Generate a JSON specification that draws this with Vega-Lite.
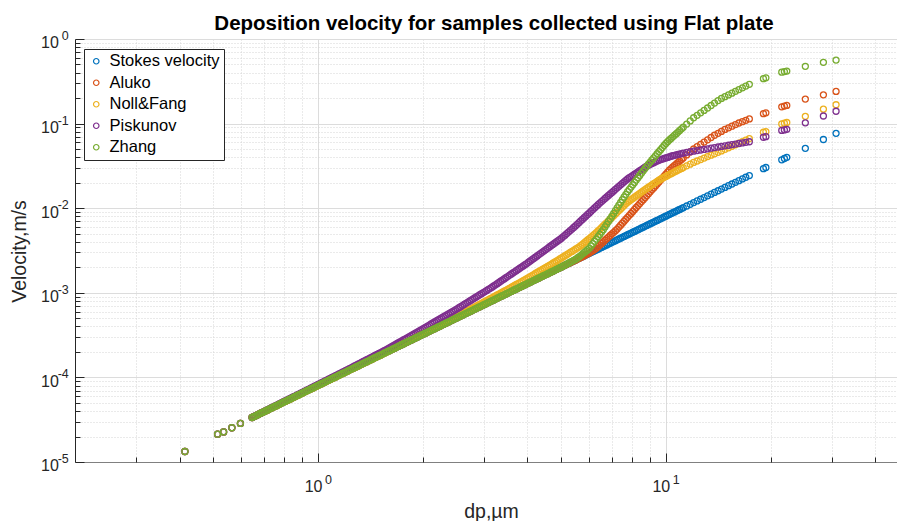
{
"$schema":"https://vega.github.io/schema/vega-lite/v6.json",
"width":822,"height":423,
"autosize":{"type":"none"},
"padding":{"left":75,"top":39,"right":0,"bottom":59},
"background":"white",
"config":{"view":{"stroke":null},"font":"Liberation Sans"},
"title":{"text":"Deposition velocity for samples collected using Flat plate","font":"Liberation Sans","fontSize":20.5,"fontWeight":"bold","color":"#000000","anchor":"middle","frame":"group","offset":-5,"dx":8},
"data":{"values":[
{"d":0.414,"s":1.33e-5,"a":1.33e-5,"n":1.33e-5,"p":1.33e-5,"z":1.33e-5},
{"d":0.514,"s":2.13e-5,"a":2.13e-5,"n":2.13e-5,"p":2.13e-5,"z":2.13e-5},
{"d":0.535,"s":2.27e-5,"a":2.27e-5,"n":2.27e-5,"p":2.27e-5,"z":2.27e-5},
{"d":0.565,"s":2.54e-5,"a":2.54e-5,"n":2.54e-5,"p":2.54e-5,"z":2.54e-5},
{"d":0.598,"s":2.86e-5,"a":2.86e-5,"n":2.86e-5,"p":2.86e-5,"z":2.86e-5},
{"d":0.646,"s":3.357e-5,"a":3.357e-5,"n":3.357e-5,"p":3.357e-5,"z":3.357e-5},
{"d":0.6531,"s":3.436e-5,"a":3.436e-5,"n":3.436e-5,"p":3.439e-5,"z":3.436e-5},
{"d":0.661,"s":3.516e-5,"a":3.516e-5,"n":3.516e-5,"p":3.520e-5,"z":3.516e-5},
{"d":0.6683,"s":3.598e-5,"a":3.598e-5,"n":3.598e-5,"p":3.605e-5,"z":3.598e-5},
{"d":0.676,"s":3.681e-5,"a":3.681e-5,"n":3.681e-5,"p":3.690e-5,"z":3.681e-5},
{"d":0.6839,"s":3.767e-5,"a":3.767e-5,"n":3.767e-5,"p":3.780e-5,"z":3.767e-5},
{"d":0.692,"s":3.855e-5,"a":3.855e-5,"n":3.855e-5,"p":3.869e-5,"z":3.855e-5},
{"d":0.6998,"s":3.945e-5,"a":3.945e-5,"n":3.945e-5,"p":3.963e-5,"z":3.945e-5},
{"d":0.708,"s":4.037e-5,"a":4.037e-5,"n":4.037e-5,"p":4.057e-5,"z":4.037e-5},
{"d":0.7161,"s":4.131e-5,"a":4.131e-5,"n":4.131e-5,"p":4.155e-5,"z":4.131e-5},
{"d":0.724,"s":4.227e-5,"a":4.227e-5,"n":4.227e-5,"p":4.253e-5,"z":4.227e-5},
{"d":0.7328,"s":4.325e-5,"a":4.325e-5,"n":4.325e-5,"p":4.356e-5,"z":4.325e-5},
{"d":0.741,"s":4.426e-5,"a":4.426e-5,"n":4.426e-5,"p":4.458e-5,"z":4.426e-5},
{"d":0.7499,"s":4.529e-5,"a":4.529e-5,"n":4.529e-5,"p":4.566e-5,"z":4.529e-5},
{"d":0.759,"s":4.635e-5,"a":4.635e-5,"n":4.635e-5,"p":4.674e-5,"z":4.635e-5},
{"d":0.7674,"s":4.742e-5,"a":4.742e-5,"n":4.742e-5,"p":4.787e-5,"z":4.742e-5},
{"d":0.776,"s":4.853e-5,"a":4.853e-5,"n":4.853e-5,"p":4.900e-5,"z":4.853e-5},
{"d":0.7852,"s":4.966e-5,"a":4.966e-5,"n":4.966e-5,"p":5.019e-5,"z":4.966e-5},
{"d":0.794,"s":5.082e-5,"a":5.082e-5,"n":5.082e-5,"p":5.138e-5,"z":5.082e-5},
{"d":0.8035,"s":5.200e-5,"a":5.200e-5,"n":5.200e-5,"p":5.262e-5,"z":5.200e-5},
{"d":0.813,"s":5.321e-5,"a":5.321e-5,"n":5.321e-5,"p":5.386e-5,"z":5.321e-5},
{"d":0.8222,"s":5.445e-5,"a":5.445e-5,"n":5.445e-5,"p":5.517e-5,"z":5.445e-5},
{"d":0.832,"s":5.572e-5,"a":5.572e-5,"n":5.572e-5,"p":5.647e-5,"z":5.572e-5},
{"d":0.8414,"s":5.702e-5,"a":5.702e-5,"n":5.702e-5,"p":5.784e-5,"z":5.702e-5},
{"d":0.851,"s":5.835e-5,"a":5.835e-5,"n":5.835e-5,"p":5.921e-5,"z":5.835e-5},
{"d":0.8610,"s":5.970e-5,"a":5.970e-5,"n":5.970e-5,"p":6.064e-5,"z":5.970e-5},
{"d":0.871,"s":6.109e-5,"a":6.109e-5,"n":6.109e-5,"p":6.206e-5,"z":6.109e-5},
{"d":0.8811,"s":6.252e-5,"a":6.252e-5,"n":6.252e-5,"p":6.356e-5,"z":6.252e-5},
{"d":0.891,"s":6.397e-5,"a":6.397e-5,"n":6.397e-5,"p":6.506e-5,"z":6.397e-5},
{"d":0.9016,"s":6.546e-5,"a":6.546e-5,"n":6.546e-5,"p":6.664e-5,"z":6.546e-5},
{"d":0.912,"s":6.699e-5,"a":6.699e-5,"n":6.699e-5,"p":6.822e-5,"z":6.699e-5},
{"d":0.9226,"s":6.855e-5,"a":6.855e-5,"n":6.855e-5,"p":6.987e-5,"z":6.855e-5},
{"d":0.933,"s":7.015e-5,"a":7.015e-5,"n":7.015e-5,"p":7.152e-5,"z":7.015e-5},
{"d":0.9441,"s":7.178e-5,"a":7.178e-5,"n":7.178e-5,"p":7.325e-5,"z":7.178e-5},
{"d":0.955,"s":7.345e-5,"a":7.345e-5,"n":7.345e-5,"p":7.498e-5,"z":7.345e-5},
{"d":0.9660,"s":7.516e-5,"a":7.516e-5,"n":7.516e-5,"p":7.679e-5,"z":7.516e-5},
{"d":0.977,"s":7.691e-5,"a":7.691e-5,"n":7.691e-5,"p":7.860e-5,"z":7.691e-5},
{"d":0.9886,"s":7.871e-5,"a":7.871e-5,"n":7.871e-5,"p":8.051e-5,"z":7.871e-5},
{"d":1.000,"s":8.054e-5,"a":8.054e-5,"n":8.054e-5,"p":8.242e-5,"z":8.054e-5},
{"d":1.0116,"s":8.241e-5,"a":8.241e-5,"n":8.241e-5,"p":8.444e-5,"z":8.241e-5},
{"d":1.023,"s":8.433e-5,"a":8.433e-5,"n":8.433e-5,"p":8.645e-5,"z":8.433e-5},
{"d":1.0351,"s":8.630e-5,"a":8.630e-5,"n":8.630e-5,"p":8.858e-5,"z":8.630e-5},
{"d":1.047,"s":8.831e-5,"a":8.831e-5,"n":8.831e-5,"p":9.070e-5,"z":8.831e-5},
{"d":1.0593,"s":9.037e-5,"a":9.037e-5,"n":9.037e-5,"p":9.293e-5,"z":9.037e-5},
{"d":1.072,"s":9.247e-5,"a":9.247e-5,"n":9.247e-5,"p":9.515e-5,"z":9.247e-5},
{"d":1.0839,"s":9.462e-5,"a":9.462e-5,"n":9.462e-5,"p":9.749e-5,"z":9.462e-5},
{"d":1.096,"s":9.683e-5,"a":9.683e-5,"n":9.683e-5,"p":9.982e-5,"z":9.683e-5},
{"d":1.1092,"s":9.908e-5,"a":9.908e-5,"n":9.908e-5,"p":1.023e-4,"z":9.908e-5},
{"d":1.122,"s":1.014e-4,"a":1.014e-4,"n":1.014e-4,"p":1.047e-4,"z":1.014e-4},
{"d":1.1350,"s":1.038e-4,"a":1.038e-4,"n":1.038e-4,"p":1.073e-4,"z":1.038e-4},
{"d":1.148,"s":1.062e-4,"a":1.062e-4,"n":1.062e-4,"p":1.099e-4,"z":1.062e-4},
{"d":1.1615,"s":1.086e-4,"a":1.086e-4,"n":1.086e-4,"p":1.126e-4,"z":1.086e-4},
{"d":1.175,"s":1.112e-4,"a":1.112e-4,"n":1.112e-4,"p":1.153e-4,"z":1.112e-4},
{"d":1.1885,"s":1.138e-4,"a":1.138e-4,"n":1.138e-4,"p":1.181e-4,"z":1.138e-4},
{"d":1.202,"s":1.164e-4,"a":1.164e-4,"n":1.164e-4,"p":1.209e-4,"z":1.164e-4},
{"d":1.2162,"s":1.191e-4,"a":1.191e-4,"n":1.191e-4,"p":1.239e-4,"z":1.191e-4},
{"d":1.230,"s":1.219e-4,"a":1.219e-4,"n":1.219e-4,"p":1.268e-4,"z":1.219e-4},
{"d":1.2445,"s":1.247e-4,"a":1.247e-4,"n":1.247e-4,"p":1.299e-4,"z":1.247e-4},
{"d":1.259,"s":1.276e-4,"a":1.276e-4,"n":1.276e-4,"p":1.330e-4,"z":1.276e-4},
{"d":1.2735,"s":1.306e-4,"a":1.306e-4,"n":1.306e-4,"p":1.364e-4,"z":1.306e-4},
{"d":1.288,"s":1.337e-4,"a":1.337e-4,"n":1.337e-4,"p":1.397e-4,"z":1.337e-4},
{"d":1.3031,"s":1.368e-4,"a":1.368e-4,"n":1.368e-4,"p":1.432e-4,"z":1.368e-4},
{"d":1.318,"s":1.400e-4,"a":1.400e-4,"n":1.400e-4,"p":1.467e-4,"z":1.400e-4},
{"d":1.3335,"s":1.432e-4,"a":1.432e-4,"n":1.432e-4,"p":1.504e-4,"z":1.432e-4},
{"d":1.349,"s":1.466e-4,"a":1.466e-4,"n":1.466e-4,"p":1.541e-4,"z":1.466e-4},
{"d":1.3646,"s":1.500e-4,"a":1.500e-4,"n":1.500e-4,"p":1.580e-4,"z":1.500e-4},
{"d":1.380,"s":1.535e-4,"a":1.535e-4,"n":1.535e-4,"p":1.618e-4,"z":1.535e-4},
{"d":1.3964,"s":1.570e-4,"a":1.570e-4,"n":1.570e-4,"p":1.658e-4,"z":1.570e-4},
{"d":1.413,"s":1.607e-4,"a":1.607e-4,"n":1.607e-4,"p":1.698e-4,"z":1.607e-4},
{"d":1.4289,"s":1.644e-4,"a":1.644e-4,"n":1.644e-4,"p":1.741e-4,"z":1.644e-4},
{"d":1.445,"s":1.683e-4,"a":1.683e-4,"n":1.683e-4,"p":1.784e-4,"z":1.683e-4},
{"d":1.4621,"s":1.722e-4,"a":1.722e-4,"n":1.722e-4,"p":1.828e-4,"z":1.722e-4},
{"d":1.479,"s":1.762e-4,"a":1.762e-4,"n":1.762e-4,"p":1.872e-4,"z":1.762e-4},
{"d":1.4962,"s":1.803e-4,"a":1.803e-4,"n":1.803e-4,"p":1.919e-4,"z":1.803e-4},
{"d":1.514,"s":1.845e-4,"a":1.845e-4,"n":1.845e-4,"p":1.966e-4,"z":1.845e-4},
{"d":1.5311,"s":1.888e-4,"a":1.888e-4,"n":1.888e-4,"p":2.016e-4,"z":1.888e-4},
{"d":1.549,"s":1.932e-4,"a":1.932e-4,"n":1.932e-4,"p":2.065e-4,"z":1.932e-4},
{"d":1.5667,"s":1.977e-4,"a":1.977e-4,"n":1.977e-4,"p":2.117e-4,"z":1.977e-4},
{"d":1.585,"s":2.023e-4,"a":2.023e-4,"n":2.023e-4,"p":2.168e-4,"z":2.023e-4},
{"d":1.6032,"s":2.070e-4,"a":2.070e-4,"n":2.084e-4,"p":2.228e-4,"z":2.070e-4},
{"d":1.622,"s":2.118e-4,"a":2.118e-4,"n":2.145e-4,"p":2.288e-4,"z":2.118e-4},
{"d":1.6406,"s":2.168e-4,"a":2.168e-4,"n":2.197e-4,"p":2.352e-4,"z":2.168e-4},
{"d":1.660,"s":2.218e-4,"a":2.218e-4,"n":2.249e-4,"p":2.415e-4,"z":2.218e-4},
{"d":1.6788,"s":2.270e-4,"a":2.270e-4,"n":2.304e-4,"p":2.483e-4,"z":2.270e-4},
{"d":1.698,"s":2.323e-4,"a":2.323e-4,"n":2.358e-4,"p":2.550e-4,"z":2.323e-4},
{"d":1.7179,"s":2.377e-4,"a":2.377e-4,"n":2.415e-4,"p":2.621e-4,"z":2.377e-4},
{"d":1.738,"s":2.432e-4,"a":2.432e-4,"n":2.472e-4,"p":2.691e-4,"z":2.432e-4},
{"d":1.7579,"s":2.489e-4,"a":2.489e-4,"n":2.532e-4,"p":2.766e-4,"z":2.489e-4},
{"d":1.778,"s":2.547e-4,"a":2.547e-4,"n":2.591e-4,"p":2.841e-4,"z":2.547e-4},
{"d":1.7989,"s":2.606e-4,"a":2.606e-4,"n":2.654e-4,"p":2.920e-4,"z":2.606e-4},
{"d":1.820,"s":2.667e-4,"a":2.667e-4,"n":2.717e-4,"p":2.999e-4,"z":2.667e-4},
{"d":1.8408,"s":2.729e-4,"a":2.729e-4,"n":2.783e-4,"p":3.083e-4,"z":2.729e-4},
{"d":1.862,"s":2.793e-4,"a":2.793e-4,"n":2.848e-4,"p":3.166e-4,"z":2.793e-4},
{"d":1.8837,"s":2.858e-4,"a":2.858e-4,"n":2.917e-4,"p":3.254e-4,"z":2.858e-4},
{"d":1.905,"s":2.924e-4,"a":2.924e-4,"n":2.985e-4,"p":3.342e-4,"z":2.924e-4},
{"d":1.9276,"s":2.992e-4,"a":2.992e-4,"n":3.058e-4,"p":3.435e-4,"z":2.992e-4},
{"d":1.950,"s":3.062e-4,"a":3.062e-4,"n":3.130e-4,"p":3.528e-4,"z":3.062e-4},
{"d":1.9724,"s":3.133e-4,"a":3.133e-4,"n":3.206e-4,"p":3.626e-4,"z":3.133e-4},
{"d":1.995,"s":3.206e-4,"a":3.206e-4,"n":3.281e-4,"p":3.723e-4,"z":3.206e-4},
{"d":2.0184,"s":3.281e-4,"a":3.281e-4,"n":3.362e-4,"p":3.829e-4,"z":3.281e-4},
{"d":2.042,"s":3.357e-4,"a":3.357e-4,"n":3.443e-4,"p":3.935e-4,"z":3.357e-4},
{"d":2.0654,"s":3.436e-4,"a":3.436e-4,"n":3.529e-4,"p":4.047e-4,"z":3.436e-4},
{"d":2.089,"s":3.516e-4,"a":3.516e-4,"n":3.615e-4,"p":4.159e-4,"z":3.516e-4},
{"d":2.1135,"s":3.598e-4,"a":3.598e-4,"n":3.704e-4,"p":4.277e-4,"z":3.598e-4},
{"d":2.138,"s":3.681e-4,"a":3.681e-4,"n":3.793e-4,"p":4.395e-4,"z":3.681e-4},
{"d":2.1628,"s":3.767e-4,"a":3.767e-4,"n":3.887e-4,"p":4.520e-4,"z":3.767e-4},
{"d":2.188,"s":3.855e-4,"a":3.855e-4,"n":3.981e-4,"p":4.645e-4,"z":3.855e-4},
{"d":2.2131,"s":3.945e-4,"a":3.945e-4,"n":4.080e-4,"p":4.778e-4,"z":3.945e-4},
{"d":2.239,"s":4.037e-4,"a":4.037e-4,"n":4.179e-4,"p":4.910e-4,"z":4.037e-4},
{"d":2.2646,"s":4.131e-4,"a":4.131e-4,"n":4.283e-4,"p":5.049e-4,"z":4.131e-4},
{"d":2.291,"s":4.227e-4,"a":4.227e-4,"n":4.386e-4,"p":5.188e-4,"z":4.227e-4},
{"d":2.3174,"s":4.325e-4,"a":4.325e-4,"n":4.495e-4,"p":5.336e-4,"z":4.325e-4},
{"d":2.344,"s":4.426e-4,"a":4.426e-4,"n":4.603e-4,"p":5.483e-4,"z":4.426e-4},
{"d":2.3714,"s":4.529e-4,"a":4.529e-4,"n":4.717e-4,"p":5.639e-4,"z":4.529e-4},
{"d":2.399,"s":4.635e-4,"a":4.635e-4,"n":4.831e-4,"p":5.795e-4,"z":4.635e-4},
{"d":2.4266,"s":4.742e-4,"a":4.742e-4,"n":4.951e-4,"p":5.960e-4,"z":4.742e-4},
{"d":2.455,"s":4.853e-4,"a":4.853e-4,"n":5.070e-4,"p":6.124e-4,"z":4.853e-4},
{"d":2.4831,"s":4.966e-4,"a":4.966e-4,"n":5.196e-4,"p":6.298e-4,"z":4.966e-4},
{"d":2.512,"s":5.082e-4,"a":5.082e-4,"n":5.321e-4,"p":6.472e-4,"z":5.082e-4},
{"d":2.5410,"s":5.200e-4,"a":5.200e-4,"n":5.453e-4,"p":6.668e-4,"z":5.200e-4},
{"d":2.570,"s":5.321e-4,"a":5.321e-4,"n":5.584e-4,"p":6.863e-4,"z":5.321e-4},
{"d":2.6002,"s":5.445e-4,"a":5.445e-4,"n":5.723e-4,"p":7.071e-4,"z":5.445e-4},
{"d":2.630,"s":5.572e-4,"a":5.572e-4,"n":5.862e-4,"p":7.278e-4,"z":5.572e-4},
{"d":2.6607,"s":5.702e-4,"a":5.702e-4,"n":6.007e-4,"p":7.499e-4,"z":5.702e-4},
{"d":2.692,"s":5.835e-4,"a":5.835e-4,"n":6.152e-4,"p":7.719e-4,"z":5.835e-4},
{"d":2.7227,"s":5.970e-4,"a":5.970e-4,"n":6.304e-4,"p":7.952e-4,"z":5.970e-4},
{"d":2.754,"s":6.109e-4,"a":6.109e-4,"n":6.456e-4,"p":8.184e-4,"z":6.109e-4},
{"d":2.7861,"s":6.252e-4,"a":6.252e-4,"n":6.616e-4,"p":8.432e-4,"z":6.252e-4},
{"d":2.818,"s":6.397e-4,"a":6.397e-4,"n":6.776e-4,"p":8.679e-4,"z":6.397e-4},
{"d":2.8510,"s":6.546e-4,"a":6.546e-4,"n":6.952e-4,"p":8.942e-4,"z":6.546e-4},
{"d":2.884,"s":6.699e-4,"a":6.699e-4,"n":7.128e-4,"p":9.204e-4,"z":6.699e-4},
{"d":2.9174,"s":6.855e-4,"a":6.855e-4,"n":7.314e-4,"p":9.483e-4,"z":6.855e-4},
{"d":2.951,"s":7.015e-4,"a":7.015e-4,"n":7.500e-4,"p":9.761e-4,"z":7.015e-4},
{"d":2.9854,"s":7.178e-4,"a":7.178e-4,"n":7.695e-4,"p":1.006e-3,"z":7.178e-4},
{"d":3.020,"s":7.345e-4,"a":7.345e-4,"n":7.889e-4,"p":1.035e-3,"z":7.345e-4},
{"d":3.0550,"s":7.516e-4,"a":7.516e-4,"n":8.094e-4,"p":1.067e-3,"z":7.516e-4},
{"d":3.090,"s":7.691e-4,"a":7.691e-4,"n":8.298e-4,"p":1.098e-3,"z":7.691e-4},
{"d":3.1261,"s":7.871e-4,"a":7.871e-4,"n":8.514e-4,"p":1.131e-3,"z":7.871e-4},
{"d":3.162,"s":8.054e-4,"a":8.054e-4,"n":8.730e-4,"p":1.164e-3,"z":8.054e-4},
{"d":3.1989,"s":8.241e-4,"a":8.241e-4,"n":8.957e-4,"p":1.203e-3,"z":8.241e-4},
{"d":3.236,"s":8.433e-4,"a":8.433e-4,"n":9.183e-4,"p":1.242e-3,"z":8.433e-4},
{"d":3.2734,"s":8.630e-4,"a":8.630e-4,"n":9.422e-4,"p":1.283e-3,"z":8.630e-4},
{"d":3.311,"s":8.831e-4,"a":8.831e-4,"n":9.661e-4,"p":1.324e-3,"z":8.831e-4},
{"d":3.3497,"s":9.037e-4,"a":9.037e-4,"n":9.911e-4,"p":1.369e-3,"z":9.037e-4},
{"d":3.388,"s":9.247e-4,"a":9.247e-4,"n":1.016e-3,"p":1.413e-3,"z":9.247e-4},
{"d":3.4276,"s":9.462e-4,"a":9.462e-4,"n":1.043e-3,"p":1.460e-3,"z":9.462e-4},
{"d":3.467,"s":9.683e-4,"a":9.683e-4,"n":1.069e-3,"p":1.507e-3,"z":9.683e-4},
{"d":3.5075,"s":9.908e-4,"a":9.908e-4,"n":1.097e-3,"p":1.557e-3,"z":9.908e-4},
{"d":3.548,"s":1.014e-3,"a":1.014e-3,"n":1.125e-3,"p":1.607e-3,"z":1.014e-3},
{"d":3.5892,"s":1.038e-3,"a":1.038e-3,"n":1.156e-3,"p":1.661e-3,"z":1.038e-3},
{"d":3.631,"s":1.062e-3,"a":1.062e-3,"n":1.187e-3,"p":1.714e-3,"z":1.062e-3},
{"d":3.6728,"s":1.086e-3,"a":1.086e-3,"n":1.220e-3,"p":1.771e-3,"z":1.086e-3},
{"d":3.715,"s":1.112e-3,"a":1.112e-3,"n":1.253e-3,"p":1.828e-3,"z":1.112e-3},
{"d":3.7584,"s":1.138e-3,"a":1.138e-3,"n":1.287e-3,"p":1.889e-3,"z":1.138e-3},
{"d":3.802,"s":1.164e-3,"a":1.164e-3,"n":1.321e-3,"p":1.950e-3,"z":1.164e-3},
{"d":3.8459,"s":1.191e-3,"a":1.191e-3,"n":1.358e-3,"p":2.015e-3,"z":1.191e-3},
{"d":3.890,"s":1.219e-3,"a":1.219e-3,"n":1.394e-3,"p":2.080e-3,"z":1.219e-3},
{"d":3.9355,"s":1.247e-3,"a":1.247e-3,"n":1.433e-3,"p":2.149e-3,"z":1.247e-3},
{"d":3.981,"s":1.276e-3,"a":1.276e-3,"n":1.471e-3,"p":2.218e-3,"z":1.276e-3},
{"d":4.0272,"s":1.306e-3,"a":1.306e-3,"n":1.512e-3,"p":2.298e-3,"z":1.306e-3},
{"d":4.074,"s":1.337e-3,"a":1.337e-3,"n":1.553e-3,"p":2.377e-3,"z":1.337e-3},
{"d":4.1210,"s":1.368e-3,"a":1.368e-3,"n":1.598e-3,"p":2.462e-3,"z":1.368e-3},
{"d":4.169,"s":1.400e-3,"a":1.400e-3,"n":1.642e-3,"p":2.547e-3,"z":1.400e-3},
{"d":4.2170,"s":1.432e-3,"a":1.432e-3,"n":1.690e-3,"p":2.638e-3,"z":1.432e-3},
{"d":4.266,"s":1.466e-3,"a":1.466e-3,"n":1.737e-3,"p":2.729e-3,"z":1.466e-3},
{"d":4.3152,"s":1.500e-3,"a":1.500e-3,"n":1.787e-3,"p":2.827e-3,"z":1.500e-3},
{"d":4.365,"s":1.535e-3,"a":1.535e-3,"n":1.836e-3,"p":2.924e-3,"z":1.535e-3},
{"d":4.4157,"s":1.570e-3,"a":1.570e-3,"n":1.889e-3,"p":3.029e-3,"z":1.570e-3},
{"d":4.467,"s":1.607e-3,"a":1.607e-3,"n":1.941e-3,"p":3.133e-3,"z":1.607e-3},
{"d":4.5185,"s":1.644e-3,"a":1.644e-3,"n":1.997e-3,"p":3.245e-3,"z":1.644e-3},
{"d":4.571,"s":1.683e-3,"a":1.683e-3,"n":2.053e-3,"p":3.357e-3,"z":1.683e-3},
{"d":4.6238,"s":1.722e-3,"a":1.722e-3,"n":2.112e-3,"p":3.478e-3,"z":1.722e-3},
{"d":4.677,"s":1.762e-3,"a":1.762e-3,"n":2.171e-3,"p":3.598e-3,"z":1.762e-3},
{"d":4.7316,"s":1.803e-3,"a":1.803e-3,"n":2.234e-3,"p":3.727e-3,"z":1.803e-3},
{"d":4.786,"s":1.845e-3,"a":1.845e-3,"n":2.296e-3,"p":3.855e-3,"z":1.845e-3},
{"d":4.8417,"s":1.888e-3,"a":1.888e-3,"n":2.366e-3,"p":3.993e-3,"z":1.888e-3},
{"d":4.898,"s":1.932e-3,"a":1.932e-3,"n":2.436e-3,"p":4.130e-3,"z":1.932e-3},
{"d":4.9545,"s":1.977e-3,"a":1.977e-3,"n":2.511e-3,"p":4.278e-3,"z":1.977e-3},
{"d":5.012,"s":2.023e-3,"a":2.023e-3,"n":2.585e-3,"p":4.426e-3,"z":2.023e-3},
{"d":5.0699,"s":2.070e-3,"a":2.070e-3,"n":2.664e-3,"p":4.616e-3,"z":2.076e-3},
{"d":5.129,"s":2.118e-3,"a":2.118e-3,"n":2.742e-3,"p":4.805e-3,"z":2.129e-3},
{"d":5.1880,"s":2.168e-3,"a":2.168e-3,"n":2.826e-3,"p":5.011e-3,"z":2.185e-3},
{"d":5.248,"s":2.218e-3,"a":2.218e-3,"n":2.910e-3,"p":5.217e-3,"z":2.241e-3},
{"d":5.3089,"s":2.270e-3,"a":2.270e-3,"n":2.999e-3,"p":5.441e-3,"z":2.300e-3},
{"d":5.370,"s":2.323e-3,"a":2.323e-3,"n":3.087e-3,"p":5.664e-3,"z":2.358e-3},
{"d":5.4325,"s":2.377e-3,"a":2.377e-3,"n":3.181e-3,"p":5.916e-3,"z":2.420e-3},
{"d":5.495,"s":2.432e-3,"a":2.432e-3,"n":3.274e-3,"p":6.168e-3,"z":2.482e-3},
{"d":5.5590,"s":2.489e-3,"a":2.489e-3,"n":3.374e-3,"p":6.455e-3,"z":2.566e-3},
{"d":5.623,"s":2.547e-3,"a":2.547e-3,"n":3.474e-3,"p":6.742e-3,"z":2.649e-3},
{"d":5.6885,"s":2.606e-3,"a":2.606e-3,"n":3.603e-3,"p":7.056e-3,"z":2.758e-3},
{"d":5.754,"s":2.667e-3,"a":2.667e-3,"n":3.731e-3,"p":7.369e-3,"z":2.867e-3},
{"d":5.8210,"s":2.729e-3,"a":2.738e-3,"n":3.886e-3,"p":7.712e-3,"z":2.985e-3},
{"d":5.888,"s":2.793e-3,"a":2.808e-3,"n":4.041e-3,"p":8.054e-3,"z":3.102e-3},
{"d":5.9566,"s":2.858e-3,"a":2.883e-3,"n":4.208e-3,"p":8.429e-3,"z":3.230e-3},
{"d":6.026,"s":2.924e-3,"a":2.958e-3,"n":4.375e-3,"p":8.803e-3,"z":3.357e-3},
{"d":6.0954,"s":2.992e-3,"a":3.055e-3,"n":4.556e-3,"p":9.212e-3,"z":3.583e-3},
{"d":6.166,"s":3.062e-3,"a":3.151e-3,"n":4.737e-3,"p":9.620e-3,"z":3.808e-3},
{"d":6.2374,"s":3.133e-3,"a":3.254e-3,"n":4.933e-3,"p":1.007e-2,"z":4.065e-3},
{"d":6.310,"s":3.206e-3,"a":3.357e-3,"n":5.129e-3,"p":1.052e-2,"z":4.321e-3},
{"d":6.3826,"s":3.281e-3,"a":3.510e-3,"n":5.376e-3,"p":1.101e-2,"z":4.612e-3},
{"d":6.457,"s":3.357e-3,"a":3.663e-3,"n":5.623e-3,"p":1.149e-2,"z":4.902e-3},
{"d":6.5313,"s":3.436e-3,"a":3.830e-3,"n":5.895e-3,"p":1.199e-2,"z":5.232e-3},
{"d":6.607,"s":3.516e-3,"a":3.996e-3,"n":6.166e-3,"p":1.249e-2,"z":5.562e-3},
{"d":6.6834,"s":3.598e-3,"a":4.178e-3,"n":6.464e-3,"p":1.303e-2,"z":6.003e-3},
{"d":6.761,"s":3.681e-3,"a":4.359e-3,"n":6.761e-3,"p":1.357e-2,"z":6.443e-3},
{"d":6.8391,"s":3.767e-3,"a":4.557e-3,"n":7.087e-3,"p":1.416e-2,"z":6.960e-3},
{"d":6.918,"s":3.855e-3,"a":4.755e-3,"n":7.413e-3,"p":1.474e-2,"z":7.477e-3},
{"d":6.9984,"s":3.945e-3,"a":4.972e-3,"n":7.771e-3,"p":1.538e-2,"z":8.060e-3},
{"d":7.079,"s":4.037e-3,"a":5.188e-3,"n":8.128e-3,"p":1.601e-2,"z":8.676e-3},
{"d":7.1615,"s":4.131e-3,"a":5.429e-3,"n":8.529e-3,"p":1.670e-2,"z":9.347e-3},
{"d":7.244,"s":4.227e-3,"a":5.670e-3,"n":8.930e-3,"p":1.739e-2,"z":1.007e-2},
{"d":7.3283,"s":4.325e-3,"a":5.989e-3,"n":9.369e-3,"p":1.814e-2,"z":1.085e-2},
{"d":7.413,"s":4.426e-3,"a":6.308e-3,"n":9.808e-3,"p":1.889e-2,"z":1.168e-2},
{"d":7.4989,"s":4.529e-3,"a":6.654e-3,"n":1.029e-2,"p":1.970e-2,"z":1.259e-2},
{"d":7.586,"s":4.635e-3,"a":7.018e-3,"n":1.078e-2,"p":2.051e-2,"z":1.356e-2},
{"d":7.6736,"s":4.742e-3,"a":7.402e-3,"n":1.128e-2,"p":2.136e-2,"z":1.458e-2},
{"d":7.762,"s":4.853e-3,"a":7.807e-3,"n":1.178e-2,"p":2.221e-2,"z":1.567e-2},
{"d":7.8524,"s":4.966e-3,"a":8.235e-3,"n":1.220e-2,"p":2.294e-2,"z":1.669e-2},
{"d":7.943,"s":5.082e-3,"a":8.686e-3,"n":1.261e-2,"p":2.366e-2,"z":1.778e-2},
{"d":8.0353,"s":5.200e-3,"a":9.161e-3,"n":1.306e-2,"p":2.443e-2,"z":1.894e-2},
{"d":8.128,"s":5.321e-3,"a":9.663e-3,"n":1.351e-2,"p":2.520e-2,"z":2.018e-2},
{"d":8.2224,"s":5.445e-3,"a":1.019e-2,"n":1.399e-2,"p":2.603e-2,"z":2.149e-2},
{"d":8.318,"s":5.572e-3,"a":1.075e-2,"n":1.447e-2,"p":2.685e-2,"z":2.289e-2},
{"d":8.4139,"s":5.702e-3,"a":1.134e-2,"n":1.499e-2,"p":2.773e-2,"z":2.439e-2},
{"d":8.511,"s":5.835e-3,"a":1.196e-2,"n":1.550e-2,"p":2.861e-2,"z":2.598e-2},
{"d":8.6100,"s":5.970e-3,"a":1.261e-2,"n":1.605e-2,"p":2.955e-2,"z":2.767e-2},
{"d":8.710,"s":6.109e-3,"a":1.330e-2,"n":1.660e-2,"p":3.048e-2,"z":2.948e-2},
{"d":8.8105,"s":6.252e-3,"a":1.403e-2,"n":1.715e-2,"p":3.135e-2,"z":3.129e-2},
{"d":8.913,"s":6.397e-3,"a":1.481e-2,"n":1.769e-2,"p":3.222e-2,"z":3.322e-2},
{"d":9.0157,"s":6.546e-3,"a":1.562e-2,"n":1.828e-2,"p":3.298e-2,"z":3.514e-2},
{"d":9.120,"s":6.699e-3,"a":1.648e-2,"n":1.887e-2,"p":3.374e-2,"z":3.717e-2},
{"d":9.2257,"s":6.855e-3,"a":1.738e-2,"n":1.949e-2,"p":3.454e-2,"z":3.932e-2},
{"d":9.333,"s":7.015e-3,"a":1.833e-2,"n":2.011e-2,"p":3.533e-2,"z":4.159e-2},
{"d":9.4406,"s":7.178e-3,"a":1.934e-2,"n":2.078e-2,"p":3.617e-2,"z":4.400e-2},
{"d":9.550,"s":7.345e-3,"a":2.040e-2,"n":2.144e-2,"p":3.700e-2,"z":4.654e-2},
{"d":9.6605,"s":7.516e-3,"a":2.152e-2,"n":2.204e-2,"p":3.756e-2,"z":4.923e-2},
{"d":9.772,"s":7.691e-3,"a":2.270e-2,"n":2.263e-2,"p":3.812e-2,"z":5.207e-2},
{"d":9.8855,"s":7.871e-3,"a":2.395e-2,"n":2.320e-2,"p":3.870e-2,"z":5.508e-2},
{"d":10.00,"s":8.054e-3,"a":2.526e-2,"n":2.376e-2,"p":3.928e-2,"z":5.826e-2},
{"d":10.116,"s":8.241e-3,"a":2.664e-2,"n":2.436e-2,"p":3.988e-2,"z":6.107e-2},
{"d":10.23,"s":8.433e-3,"a":2.810e-2,"n":2.496e-2,"p":4.048e-2,"z":6.401e-2},
{"d":10.351,"s":8.630e-3,"a":2.937e-2,"n":2.559e-2,"p":4.110e-2,"z":6.685e-2},
{"d":10.47,"s":8.831e-3,"a":3.070e-2,"n":2.621e-2,"p":4.171e-2,"z":6.982e-2},
{"d":10.593,"s":9.037e-3,"a":3.198e-2,"n":2.688e-2,"p":4.220e-2,"z":7.290e-2},
{"d":10.72,"s":9.247e-3,"a":3.332e-2,"n":2.754e-2,"p":4.268e-2,"z":7.612e-2},
{"d":10.839,"s":9.462e-3,"a":3.472e-2,"n":2.820e-2,"p":4.318e-2,"z":7.949e-2},
{"d":10.96,"s":9.683e-3,"a":3.617e-2,"n":2.886e-2,"p":4.367e-2,"z":8.300e-2},
{"d":11.092,"s":9.908e-3,"a":3.768e-2,"n":2.955e-2,"p":4.418e-2,"z":8.667e-2},
{"d":11.22,"s":1.014e-2,"a":3.926e-2,"n":3.023e-2,"p":4.469e-2,"z":9.050e-2},
{"d":11.48,"s":1.062e-2,"a":4.261e-2,"n":3.167e-2,"p":4.573e-2,"z":9.870e-2},
{"d":11.75,"s":1.112e-2,"a":4.625e-2,"n":3.317e-2,"p":4.647e-2,"z":0.1076},
{"d":12.02,"s":1.164e-2,"a":5.008e-2,"n":3.473e-2,"p":4.722e-2,"z":0.1172},
{"d":12.30,"s":1.219e-2,"a":5.332e-2,"n":3.614e-2,"p":4.799e-2,"z":0.1253},
{"d":12.59,"s":1.276e-2,"a":5.677e-2,"n":3.761e-2,"p":4.877e-2,"z":0.1339},
{"d":12.88,"s":1.337e-2,"a":6.043e-2,"n":3.913e-2,"p":4.956e-2,"z":0.1432},
{"d":13.18,"s":1.400e-2,"a":6.434e-2,"n":4.073e-2,"p":5.037e-2,"z":0.1530},
{"d":13.49,"s":1.466e-2,"a":6.849e-2,"n":4.234e-2,"p":5.119e-2,"z":0.1636},
{"d":13.80,"s":1.535e-2,"a":7.278e-2,"n":4.399e-2,"p":5.202e-2,"z":0.1749},
{"d":14.13,"s":1.607e-2,"a":7.674e-2,"n":4.572e-2,"p":5.286e-2,"z":0.1870},
{"d":14.45,"s":1.683e-2,"a":8.091e-2,"n":4.756e-2,"p":5.371e-2,"z":0.1983},
{"d":14.79,"s":1.762e-2,"a":8.531e-2,"n":4.960e-2,"p":5.458e-2,"z":0.2081},
{"d":15.14,"s":1.845e-2,"a":8.913e-2,"n":5.172e-2,"p":5.545e-2,"z":0.2184},
{"d":15.49,"s":1.932e-2,"a":9.311e-2,"n":5.394e-2,"p":5.634e-2,"z":0.2291},
{"d":15.85,"s":2.023e-2,"a":9.727e-2,"n":5.625e-2,"p":5.724e-2,"z":0.2404},
{"d":16.22,"s":2.118e-2,"a":0.1016,"n":5.865e-2,"p":5.816e-2,"z":0.2523},
{"d":16.60,"s":2.218e-2,"a":0.1054,"n":6.116e-2,"p":5.909e-2,"z":0.2647},
{"d":16.98,"s":2.323e-2,"a":0.1094,"n":6.378e-2,"p":6.003e-2,"z":0.2778},
{"d":17.38,"s":2.432e-2,"a":0.1135,"n":6.651e-2,"p":6.099e-2,"z":0.2915},
{"d":19.08,"s":0.02931,"a":0.131,"n":0.0790,"p":0.0690,"z":0.340},
{"d":19.39,"s":0.03026,"a":0.134,"n":0.0805,"p":0.0700,"z":0.348},
{"d":21.54,"s":0.03735,"a":0.158,"n":0.0990,"p":0.0830,"z":0.405},
{"d":21.92,"s":0.03868,"a":0.161,"n":0.101,"p":0.0842,"z":0.412},
{"d":22.27,"s":0.03992,"a":0.164,"n":0.103,"p":0.0855,"z":0.418},
{"d":25.18,"s":0.05104,"a":0.195,"n":0.122,"p":0.102,"z":0.475},
{"d":28.38,"s":0.06484,"a":0.219,"n":0.148,"p":0.123,"z":0.530},
{"d":30.86,"s":0.07666,"a":0.240,"n":0.167,"p":0.140,"z":0.564}
]},
"resolve":{"axis":{"x":"independent","y":"independent"}},
"layer":[
{"mark":{"type":"point","filled":false,"size":36,"strokeWidth":1.3,"opacity":1},
 "encoding":{
  "x":{"field":"d","type":"quantitative","scale":{"type":"log","domain":[0.2,46.2],"nice":false},
   "axis":{"orient":"bottom","values":[1,10],"title":"dp,µm","labelExpr":"'10'","grid":true,"gridColor":"#dcdcdc","gridWidth":1,"tickSize":-9,"tickColor":"#262626","domainColor":"#808080","labelPadding":38.7,"labelBaseline":"alphabetic","labelOffset":-5,"labelFont":"Liberation Sans","labelFontSize":16,"labelColor":"#262626","labelFlush":false,"titleFont":"Liberation Sans","titleFontSize":19.5,"titleFontWeight":"normal","titleColor":"#262626","titleX":416,"titleY":55,"titleBaseline":"alphabetic","titleAlign":"center"}},
  "y":{"field":"s","type":"quantitative","scale":{"type":"log","domain":[1e-5,1],"nice":false},
   "axis":{"orient":"left","values":[1e-5,1e-4,1e-3,1e-2,1e-1,1],"title":"Velocity,m/s","labelExpr":"datum.value > 0.5 ? '10' : '10\u2005'","grid":true,"gridColor":"#dcdcdc","gridWidth":1,"tickSize":-9,"tickColor":"#262626","domainColor":"#262626","labelPadding":25.7,"labelAlign":"right","labelBaseline":"alphabetic","labelOffset":8.8,"labelFont":"Liberation Sans","labelFontSize":16,"labelColor":"#262626","labelFlush":false,"titleFont":"Liberation Sans","titleFontSize":19.5,"titleFontWeight":"normal","titleColor":"#262626","titleX":-50,"titleY":212,"titleAngle":-90,"titleBaseline":"alphabetic","titleAlign":"center"}},
  "color":{"datum":"Stokes velocity","type":"nominal",
   "scale":{"domain":["Stokes velocity","Aluko","Noll&Fang","Piskunov","Zhang"],"range":["#0072BD","#D95319","#EDB120","#7E2F8E","#77AC30"]},
   "legend":{"title":null,"orient":"none","legendX":9,"legendY":10,"direction":"vertical","fillColor":"white","strokeColor":"#262626","padding":4,"symbolType":"circle","symbolSize":30,"symbolStrokeWidth":1.2,"symbolOffset":0,"labelFont":"Liberation Sans","labelFontSize":16.5,"labelColor":"#000000","labelOffset":5,"rowPadding":4.5}}
 }},
{"mark":{"type":"point","filled":false,"size":36,"strokeWidth":1.3,"opacity":1},
 "encoding":{
  "x":{"field":"d","type":"quantitative","axis":{"orient":"bottom","values":[0.3,0.4,0.5,0.6,0.7,0.8,0.9,2,3,4,5,6,7,8,9,20,30,40],"labels":false,"title":null,"domain":false,"grid":true,"gridColor":"#d4d4d4","gridDash":[1,2],"gridWidth":1,"tickSize":-5,"tickColor":"#262626"}},
  "y":{"field":"a","type":"quantitative","axis":{"orient":"left","values":[2e-5,3e-5,4e-5,5e-5,6e-5,7e-5,8e-5,9e-5,2e-4,3e-4,4e-4,5e-4,6e-4,7e-4,8e-4,9e-4,2e-3,3e-3,4e-3,5e-3,6e-3,7e-3,8e-3,9e-3,2e-2,3e-2,4e-2,5e-2,6e-2,7e-2,8e-2,9e-2,0.2,0.3,0.4,0.5,0.6,0.7,0.8,0.9],"labels":false,"title":null,"domain":false,"grid":true,"gridColor":"#d4d4d4","gridDash":[1,2],"gridWidth":1,"tickSize":-5,"tickColor":"#262626"}},
  "color":{"datum":"Aluko","type":"nominal"}
 }},
{"mark":{"type":"point","filled":false,"size":36,"strokeWidth":1.3,"opacity":1},
 "encoding":{
  "x":{"field":"d","type":"quantitative","axis":{"orient":"bottom","values":[1,10],"labelExpr":"datum.value < 5 ? '0' : '1'","title":null,"domain":false,"grid":false,"ticks":false,"labelPadding":21.3,"labelBaseline":"alphabetic","labelOffset":9.8,"labelFont":"Liberation Sans","labelFontSize":12.5,"labelColor":"#262626","labelFlush":false}},
  "y":{"field":"n","type":"quantitative","axis":{"orient":"left","values":[1e-5,1e-4,1e-3,1e-2,1e-1,1],"labelExpr":"datum.value > 0.5 ? '0' : datum.value > 0.05 ? '-1' : datum.value > 0.005 ? '-2' : datum.value > 0.0005 ? '-3' : datum.value > 0.00005 ? '-4' : '-5'","title":null,"domain":false,"grid":false,"ticks":false,"labelPadding":6.7,"labelAlign":"right","labelBaseline":"alphabetic","labelOffset":0.5,"labelFont":"Liberation Sans","labelFontSize":12.5,"labelColor":"#262626","labelFlush":false}},
  "color":{"datum":"Noll&Fang","type":"nominal"}}},
{"mark":{"type":"point","filled":false,"size":36,"strokeWidth":1.3,"opacity":1},
 "encoding":{"x":{"field":"d","type":"quantitative","axis":null},"y":{"field":"p","type":"quantitative","axis":null},"color":{"datum":"Piskunov","type":"nominal"}}},
{"mark":{"type":"point","filled":false,"size":36,"strokeWidth":1.3,"opacity":1},
 "encoding":{"x":{"field":"d","type":"quantitative","axis":null},"y":{"field":"z","type":"quantitative","axis":null},"color":{"datum":"Zhang","type":"nominal"}}}
]
}
